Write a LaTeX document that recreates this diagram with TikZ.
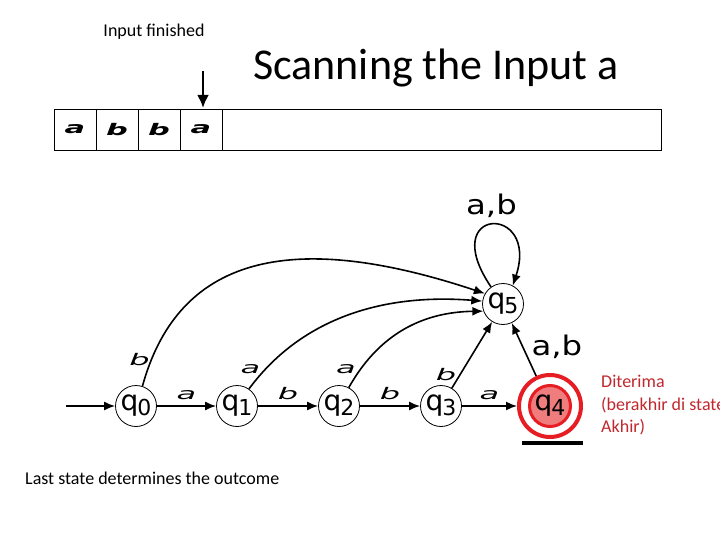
\documentclass[tikz,border=0pt]{standalone}
\usepackage{fontspec}
\setmainfont{Carlito}
\newfontfamily\dvsfont{DejaVu Sans}
\usetikzlibrary{arrows.meta}
\definecolor{ringred}{RGB}{230,30,35}
\definecolor{fillred}{RGB}{240,125,125}
\definecolor{txtred}{RGB}{192,40,45}
\newcommand{\qlab}[1]{{\dvsfont\fontsize{28}{28}\selectfont q\kern-1pt\raisebox{-5pt}{\fontsize{22}{22}\selectfont #1}}}
\newcommand{\elab}[1]{\scalebox{2}[1]{\dvsfont\itshape\fontsize{16}{16}\selectfont #1}}
\newcommand{\tlab}[1]{\scalebox{1.9}[1]{\dvsfont\bfseries\itshape\fontsize{16}{16}\selectfont #1}}
\newcommand{\ablab}{\scalebox{1.2}[1]{\dvsfont\fontsize{27}{27}\selectfont a,b}}
\begin{document}
\begin{tikzpicture}[x=1pt,y=1pt,
  state/.style={circle,draw,line width=0.8pt,minimum size=41pt,inner sep=0pt},
  arr/.style={-{Latex[length=11pt,width=9pt]},line width=1.6pt},
  cell/.style={draw,line width=0.8pt,minimum width=42pt,minimum height=41pt,inner sep=0pt},
  plain/.style={font=\fontsize{18}{22}\selectfont,inner sep=0pt},
  elabel/.style={inner sep=0pt}]
\useasboundingbox (0,0) rectangle (720,-540);
\clip (0,0) rectangle (720,-540);

% texts
\node[plain] (fin) at (154,-32) {Input finished};
\node[font=\fontsize{44}{48}\selectfont,inner sep=0pt] (title) at (436,-68) {Scanning the Input a};
\node[plain,anchor=west] (last) at (25,-478) {Last state determines the outcome};
\node[plain,anchor=north west,align=left,text=txtred,font=\fontsize{18}{22.5}\selectfont] (acc) at (601,-375) {Diterima\\(berakhir di state\\Akhir)};

% tape
\node[cell] (c1) at (75,-129.5) {\tlab{a}};
\node[cell] (c2) at (117,-129.5) {\tlab{b}};
\node[cell] (c3) at (159,-129.5) {\tlab{b}};
\node[cell] (c4) at (201,-129.5) {\tlab{a}};
\node[cell,minimum width=439pt] (rest) at (441.5,-129.5) {};
\coordinate (ptop) at (203,-71);
\coordinate (ptip) at (203,-108);
\draw[-{Latex[length=13pt,width=12pt]},line width=2.8pt] (ptop) -- (ptip);

% states
\node[state] (q0) at (136,-406) {\qlab{0}};
\node[state] (q1) at (237,-406) {\qlab{1}};
\node[state] (q2) at (339,-406) {\qlab{2}};
\node[state] (q3) at (441,-406) {\qlab{3}};
\node[circle,draw=ringred,line width=4pt,minimum size=62pt,inner sep=0pt] (q4) at (550,-406) {};
\node[circle,draw=ringred,fill=fillred,line width=3pt,minimum size=41pt,inner sep=0pt] (q4i) at (q4) {\qlab{4}};
\node[state] (q5) at (503,-304) {\qlab{5}};

\coordinate (start) at (66,-406);
\coordinate (u1) at (522,-443);
\coordinate (u2) at (583,-443);
\draw[line width=3.5pt] (u1) -- (u2);

% straight edges
\draw[arr] (start) -- (q0);
\draw[arr] (q0) -- node[elabel,above=5pt] {\elab{a}} (q1);
\draw[arr] (q1) -- node[elabel,above=5pt] {\elab{b}} (q2);
\draw[arr] (q2) -- node[elabel,above=5pt] {\elab{b}} (q3);
\draw[arr] (q3) -- node[elabel,above=5pt] {\elab{a}} (q4);

% edges to the sink
\draw[arr] (q0.72) .. controls (180,-250) and (300,-232) .. node[elabel,pos=0.07,left=1pt] {\elab{b}} (q5.150);
\draw[arr] (q1.55) .. controls (300,-320) and (380,-293) .. node[elabel,pos=0.1,left=4pt] {\elab{a}} (q5.172);
\draw[arr] (q2.62) .. controls (380,-332) and (425,-312) .. node[elabel,pos=0.12,left=4pt] {\elab{a}} (q5.200);
\draw[arr] (q3) -- node[elabel,pos=0.2,left=3pt] {\elab{b}} (q5);
\draw[arr] (q4) -- node[elabel,pos=0.55,right=8pt] {\ablab} (q5);
\draw[arr] (q5.125) .. controls (436,-206) and (540,-203) .. node[elabel,pos=0.5,above=6pt] {\ablab} (q5.62);
\end{tikzpicture}
\end{document}
